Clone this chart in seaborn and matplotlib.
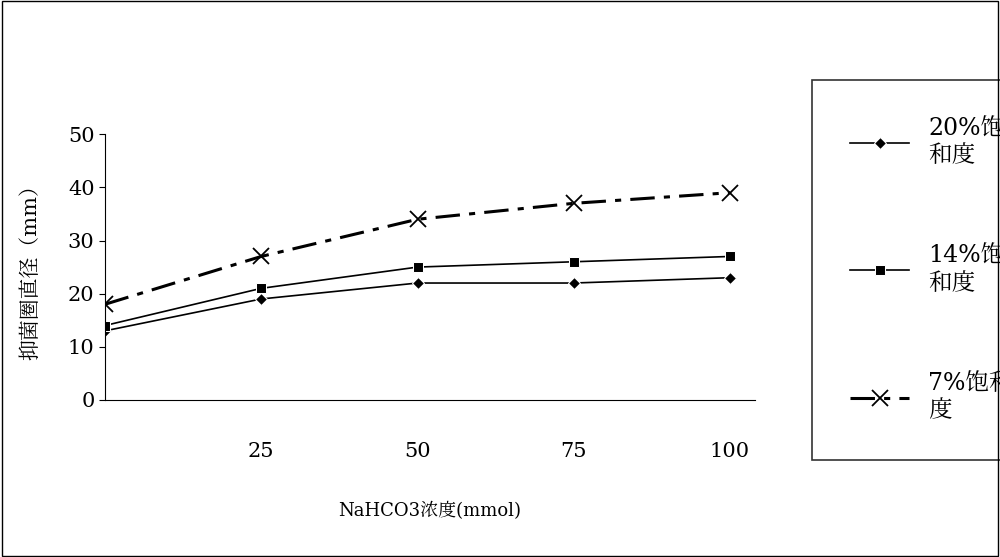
import matplotlib
matplotlib.use("Agg")
import matplotlib.pyplot as plt
from matplotlib import font_manager as fm
import seaborn as sns

conc = [0, 25, 50, 75, 100]
s20 = [13, 19, 22, 22, 23]
s14 = [14, 21, 25, 26, 27]
s7 = [18, 27, 34, 37, 39]
names = ["20%饱\n和度", "14%饱\n和度", "7%饱和\n度"]

cjk = [f.name for f in fm.fontManager.ttflist if "CJK" in f.name]
cjkname = "Noto Sans CJK SC" if "Noto Sans CJK SC" in cjk else (cjk[0] if cjk else "DejaVu Sans")
plt.rcParams["font.family"] = ["DejaVu Serif", cjkname]

fig = plt.figure(figsize=(10, 5.57), dpi=100)
ax = fig.add_axes([0.105, 0.282, 0.65, 0.477])
sns.lineplot(x=conc, y=s20, ax=ax, color="black", marker="D", markersize=6, lw=1.2, label=names[0])
sns.lineplot(x=conc, y=s14, ax=ax, color="black", marker="s", markersize=7, lw=1.2, label=names[1])
sns.lineplot(x=conc, y=s7, ax=ax, color="black", lw=2.2,
             linestyle=(0, (8, 3, 2, 3)), label=names[2])
line7 = ax.get_lines()[-1]
line7.set_marker("x")
line7.set_markersize(12)
line7.set_markeredgecolor("black")
line7.set_markeredgewidth(1.3)
ax.set_xlim(0, 104)
ax.set_ylim(0, 50)
ax.set_yticks(range(0, 51, 10))
ax.set_xticks([25, 50, 75, 100])
ax.tick_params(axis="x", pad=30, length=0, labelsize=15)
ax.tick_params(axis="y", labelsize=15, length=4)
ax.spines["top"].set_visible(False)
ax.spines["right"].set_visible(False)
ax.set_xlabel("NaHCO3浓度(mmol)", fontsize=13, labelpad=30)
ax.set_ylabel("抑菌圈直径（mm）", fontsize=15)
ax.yaxis.set_label_coords(-0.1, 0.5)
leg = ax.legend(loc="upper left", bbox_to_anchor=(1.07, 1.25), frameon=True, fancybox=False,
                edgecolor="black", fontsize=17, labelspacing=3.3, handlelength=2.5,
                borderpad=1.6)
leg.get_frame().set_linewidth(1.2)
fig.patches.append(plt.Rectangle((0.002, 0.002), 0.996, 0.996, transform=fig.transFigure,
                                 fill=False, edgecolor="black", lw=1))
fig.savefig("out.png", dpi=100)
